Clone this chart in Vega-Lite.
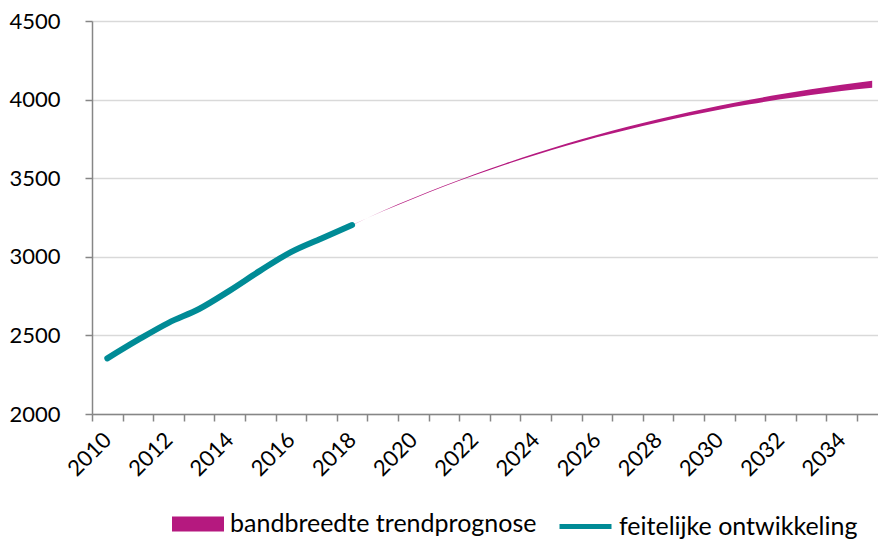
{
  "$schema": "https://vega.github.io/schema/vega-lite/v6.json",
  "width": 786,
  "height": 393,
  "autosize": {"type": "none"},
  "padding": {"left": 92, "top": 21, "right": 0, "bottom": 126},
  "background": "white",
  "config": {
    "view": {"stroke": null},
    "font": "Lato",
    "axis": {"labelFont": "Lato", "labelColor": "#000000"},
    "legend": {"labelFont": "Lato"}
  },
  "resolve": {"axis": {"x": "independent"}},
  "data": {
    "values": [
      {"year": 2010, "series": "feitelijke ontwikkeling", "value": 2354},
      {"year": 2011, "series": "feitelijke ontwikkeling", "value": 2471},
      {"year": 2012, "series": "feitelijke ontwikkeling", "value": 2580},
      {"year": 2013, "series": "feitelijke ontwikkeling", "value": 2668},
      {"year": 2014, "series": "feitelijke ontwikkeling", "value": 2785},
      {"year": 2015, "series": "feitelijke ontwikkeling", "value": 2912},
      {"year": 2016, "series": "feitelijke ontwikkeling", "value": 3030},
      {"year": 2017, "series": "feitelijke ontwikkeling", "value": 3117},
      {"year": 2018, "series": "feitelijke ontwikkeling", "value": 3202},
      {"year": 2018, "series": "bandbreedte trendprognose", "lower": 3201, "upper": 3203},
      {"year": 2019, "series": "bandbreedte trendprognose", "lower": 3289, "upper": 3292},
      {"year": 2020, "series": "bandbreedte trendprognose", "lower": 3370, "upper": 3374},
      {"year": 2021, "series": "bandbreedte trendprognose", "lower": 3447, "upper": 3452},
      {"year": 2022, "series": "bandbreedte trendprognose", "lower": 3518, "upper": 3525},
      {"year": 2023, "series": "bandbreedte trendprognose", "lower": 3585, "upper": 3594},
      {"year": 2024, "series": "bandbreedte trendprognose", "lower": 3647, "upper": 3658},
      {"year": 2025, "series": "bandbreedte trendprognose", "lower": 3706, "upper": 3719},
      {"year": 2026, "series": "bandbreedte trendprognose", "lower": 3760, "upper": 3775},
      {"year": 2027, "series": "bandbreedte trendprognose", "lower": 3809, "upper": 3827},
      {"year": 2028, "series": "bandbreedte trendprognose", "lower": 3855, "upper": 3875},
      {"year": 2029, "series": "bandbreedte trendprognose", "lower": 3897, "upper": 3920},
      {"year": 2030, "series": "bandbreedte trendprognose", "lower": 3936, "upper": 3961},
      {"year": 2031, "series": "bandbreedte trendprognose", "lower": 3970, "upper": 3999},
      {"year": 2032, "series": "bandbreedte trendprognose", "lower": 4002, "upper": 4034},
      {"year": 2033, "series": "bandbreedte trendprognose", "lower": 4030, "upper": 4066},
      {"year": 2034, "series": "bandbreedte trendprognose", "lower": 4055, "upper": 4095},
      {"year": 2035, "series": "bandbreedte trendprognose", "lower": 4075, "upper": 4120}
    ]
  },
  "layer": [
    {
      "transform": [{"filter": "datum.series === 'bandbreedte trendprognose'"}],
      "mark": {"type": "area", "opacity": 1, "interpolate": "monotone"},
      "encoding": {
        "x": {
          "field": "year",
          "type": "quantitative",
          "scale": {"domain": [2009.5, 2035.19], "nice": false, "zero": false},
          "axis": {
            "title": null,
            "orient": "bottom",
            "values": [2009.5, 2010.5, 2011.5, 2012.5, 2013.5, 2014.5, 2015.5, 2016.5, 2017.5, 2018.5, 2019.5, 2020.5, 2021.5, 2022.5, 2023.5, 2024.5, 2025.5, 2026.5, 2027.5, 2028.5, 2029.5, 2030.5, 2031.5, 2032.5, 2033.5, 2034.5],
            "labels": false,
            "grid": false,
            "tickSize": 7,
            "tickColor": "#868686",
            "tickWidth": 1.5,
            "domainColor": "#868686",
            "domainWidth": 1.5
          }
        },
        "y": {
          "field": "lower",
          "type": "quantitative",
          "scale": {"domain": [2000, 4500], "nice": false, "zero": false},
          "axis": {
            "title": null,
            "values": [2000, 2500, 3000, 3500, 4000, 4500],
            "format": "d",
            "grid": true,
            "gridColor": "#D9D9D9",
            "gridWidth": 1.5,
            "tickSize": 7,
            "tickColor": "#868686",
            "tickWidth": 1.5,
            "domainColor": "#868686",
            "domainWidth": 1.5,
            "labelFontSize": 22,
            "labelPadding": 25
          }
        },
        "y2": {"field": "upper"},
        "fill": {
          "field": "series",
          "type": "nominal",
          "scale": {"domain": ["bandbreedte trendprognose"], "range": ["#B5197F"]},
          "legend": {
            "title": null,
            "orient": "none",
            "direction": "horizontal",
            "legendX": 80,
            "legendY": 477,
            "symbolType": "M-1,-0.29H1V0.29H-1Z",
            "symbolSize": 2704,
            "symbolOpacity": 1,
            "symbolStrokeWidth": 0,
            "labelFontSize": 25,
            "labelLimit": 0,
            "labelColor": "#000000",
            "labelOffset": 6
          }
        }
      }
    },
    {
      "transform": [{"filter": "datum.series === 'feitelijke ontwikkeling'"}],
      "mark": {"type": "line", "strokeWidth": 6, "strokeCap": "round", "strokeJoin": "round", "interpolate": "monotone"},
      "encoding": {
        "x": {"field": "year", "type": "quantitative", "axis": null},
        "y": {"field": "value", "type": "quantitative"},
        "stroke": {
          "field": "series",
          "type": "nominal",
          "scale": {"domain": ["feitelijke ontwikkeling"], "range": ["#008B96"]},
          "legend": {
            "title": null,
            "orient": "none",
            "direction": "horizontal",
            "legendX": 465,
            "legendY": 477,
            "symbolType": "stroke",
            "symbolSize": 2704,
            "symbolStrokeWidth": 5,
            "labelFontSize": 25,
            "labelLimit": 0,
            "labelColor": "#000000",
            "labelOffset": 5
          }
        }
      }
    },
    {
      "mark": {"type": "rule", "opacity": 0},
      "encoding": {
        "x": {
          "datum": 2010,
          "type": "quantitative",
          "axis": {
            "title": null,
            "orient": "bottom",
            "values": [2010, 2012, 2014, 2016, 2018, 2020, 2022, 2024, 2026, 2028, 2030, 2032, 2034],
            "format": "d",
            "ticks": false,
            "domain": false,
            "grid": false,
            "labelAngle": -45,
            "labelAlign": "right",
            "labelBaseline": "middle",
            "labelFontSize": 22,
            "labelPadding": 22,
            "labelDx": 4
          }
        }
      }
    }
  ]
}
